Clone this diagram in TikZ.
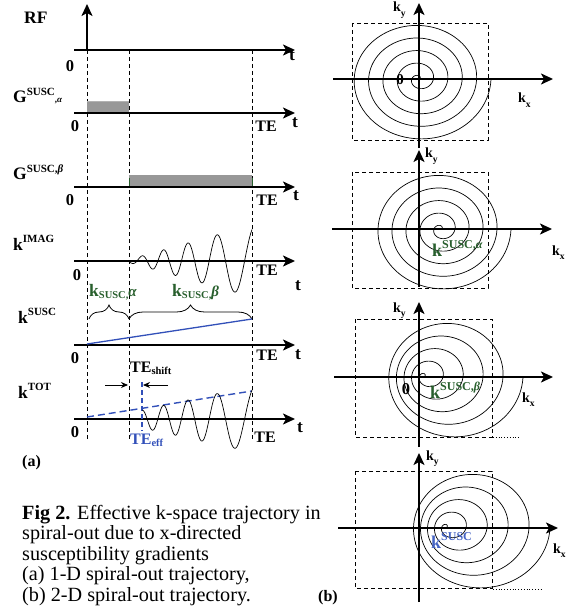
\documentclass[tikz,border=0pt]{standalone}
\usepackage{fontspec}
\setmainfont{Liberation Serif}
\usetikzlibrary{arrows.meta,decorations.pathreplacing}
\definecolor{kgreen}{RGB}{40,95,45}
\definecolor{kblue}{RGB}{50,80,185}
\definecolor{kblue2}{RGB}{70,100,195}
\definecolor{gfill}{RGB}{152,152,152}
\newcommand\supx[1]{\raisebox{0.42em}{\fontsize{11}{12}\selectfont #1}}
\newcommand\subx[1]{\raisebox{-0.15em}{\fontsize{10.5}{12}\selectfont #1}}
\newcommand\subk[1]{\raisebox{-0.3em}{\fontsize{9.5}{10}\selectfont #1}}
\newcommand\myalpha{\textit{α}}
\newcommand\mybeta{\textit{β}}
\begin{document}
\begin{tikzpicture}[x=1pt,y=-1pt,
  axarrow/.style={line width=1.8pt,-{Stealth[length=12pt,width=11pt,inset=3pt]}},
  vline/.style={line width=0.9pt,dash pattern=on 4pt off 3pt},
  kbox/.style={line width=0.9pt,dash pattern=on 4pt off 3pt},
  big/.style={font=\fontsize{17.5}{19}\selectfont\bfseries,inner sep=0pt,anchor=base west},
  ax/.style={font=\fontsize{16.5}{18}\selectfont\bfseries,inner sep=0pt},
  te/.style={font=\fontsize{16}{18}\selectfont\bfseries,inner sep=0pt},
  tt/.style={font=\fontsize{17.5}{19}\selectfont\bfseries,inner sep=0pt},
  kl/.style={font=\fontsize{14}{16}\selectfont\bfseries,inner sep=0pt,anchor=base west},
  kbig/.style={font=\fontsize{18}{19}\selectfont\bfseries,inner sep=0pt,anchor=base west},
  captxt/.style={font=\fontsize{20.2}{22}\selectfont,inner sep=0pt,anchor=base west},
  spiral/.style={line width=0.7pt},
  wave/.style={line width=0.7pt},
  shiftarrow/.style={line width=0.9pt,-{Stealth[length=7pt,width=6pt]}}
]
\useasboundingbox (0,0) rectangle (579,612);

% ---------------- panel (a) ----------------
\coordinate (v1t) at (87,50);  \coordinate (v1b) at (87,441);
\coordinate (v2t) at (129,50); \coordinate (v2b) at (129,441);
\coordinate (v3t) at (252,50); \coordinate (v3b) at (252,441);
\draw[vline] (v1t) -- (v1b);
\draw[vline] (v2t) -- (v2b);
\draw[vline] (v3t) -- (v3b);

\fill[gfill] (87,101) rectangle (129,113);
\draw[gray!60,line width=0.6pt] (87,101) -- (129,101);
\fill[gfill] (129,175) rectangle (252,187);
\draw[kgreen,line width=0.8pt] (129,178) -- (129,187);
\draw[kgreen,line width=0.8pt] (252,178) -- (252,187);

\coordinate (rfb) at (87,50); \coordinate (rft) at (87,4);
\draw[axarrow] (rfb) -- (rft);

\foreach \n/\y in {1/50,2/113,3/187,4/261,5/345,6/419}{
  \coordinate (as\n) at (74,\y); \coordinate (ae\n) at (295,\y);
  \draw[axarrow] (as\n) -- (ae\n);
}

\node[big] (rf) at (24,24) {RF};
\node[ax] (z1) at (70,66) {0};
\node[tt] (t1) at (292,56) {t};
\node[big] (gal) at (13,103) {G\supx{SUSC}\raisebox{0.05em}{\fontsize{9}{10}\selectfont ,\myalpha}};
\node[ax] (z2) at (75,126) {0};
\node[te] (te2) at (266,126) {TE};
\node[tt] (t2) at (295,123) {t};
\node[big] (gbe) at (13,180) {G\supx{SUSC,\mybeta}};
\node[ax] (z3) at (70,200) {0};
\node[te] (te3) at (267,200) {TE};
\node[tt] (t3) at (296,196) {t};
\node[big] (kim) at (13,250) {k\supx{IMAG}};
\node[ax] (z4) at (77,275) {0};
\node[te] (te4) at (267,270) {TE};
\node[tt] (t4) at (298,286) {t};
\draw[wave] plot[domain=0:123,samples=300,variable=\s]
  ({129+\s},{261-(0.28*\s+1.5)*sin(deg(-2.58+0.3297*\s-0.000784*\s*\s))});
\node[big,text=kgreen] (ksa) at (89,296) {k\subx{SUSC,}\raisebox{-0.05em}{\fontsize{15}{16}\selectfont\myalpha}};
\node[big,text=kgreen] (ksb) at (172,296) {k\subx{SUSC,}\raisebox{-0.05em}{\fontsize{15}{16}\selectfont\mybeta}};
\coordinate (b1) at (89,319); \coordinate (b2) at (129,319); \coordinate (b3) at (252,319);
\draw[decorate,decoration={brace,amplitude=14pt},line width=0.8pt] (b1) -- (b2);
\draw[decorate,decoration={brace,amplitude=14pt},line width=0.8pt] (b2) -- (b3);
\node[big] (ksu) at (18,323) {k\supx{SUSC}};
\coordinate (l1) at (87,344); \coordinate (l2) at (252,319);
\draw[kblue,line width=1.3pt] (l1) -- (l2);
\node[ax] (z5) at (75,358) {0};
\node[te] (te5) at (267,355) {TE};
\node[tt] (t5) at (298,355) {t};
\node[big] (kto) at (18,398) {k\supx{TOT}};
\node[font=\fontsize{16}{18}\selectfont\bfseries,inner sep=0pt,anchor=base west] (tes) at (130,372) {TE\subx{shift}};
\coordinate (s1) at (105,385); \coordinate (s2) at (128,385);
\coordinate (s3) at (168,385); \coordinate (s4) at (143,385);
\draw[shiftarrow] (s1) -- (s2);
\draw[shiftarrow] (s3) -- (s4);
\coordinate (d1) at (87,417); \coordinate (d2) at (252,391);
\draw[kblue,line width=1.4pt,dash pattern=on 7pt off 4pt] (d1) -- (d2);
\coordinate (e1) at (142,382); \coordinate (e2) at (142,431);
\draw[kblue,line width=1.2pt,dash pattern=on 5pt off 3pt] (e1) -- (e2);
\draw[wave] plot[domain=13:123,samples=260,variable=\s]
  ({129+\s},{419-(0.22*\s+6)*sin(deg(-2.58+0.3297*\s-0.000784*\s*\s))});
\node[ax] (z6) at (75,432) {0};
\node[te] (te6) at (265,437) {TE};
\node[tt] (t6) at (300,428) {t};
\node[font=\fontsize{16}{18}\selectfont\bfseries,inner sep=0pt,anchor=base west,text=kblue] (tee) at (130,444) {TE\subx{eff}};
\node[font=\fontsize{16}{18}\selectfont\bfseries,inner sep=0pt,anchor=base west] (pa) at (22,466) {(a)};

\node[captxt] (c1) at (22,519) {\textbf{Fig 2.} Effective k-space trajectory in};
\node[captxt] (c2) at (22,539) {spiral-out due to x-directed};
\node[captxt] (c3) at (22,560) {susceptibility gradients};
\node[captxt] (c4) at (22,580) {(a) 1-D spiral-out trajectory,};
\node[captxt] (c5) at (22,601) {(b) 2-D spiral-out trajectory.};
\node[font=\fontsize{16}{18}\selectfont\bfseries,inner sep=0pt,anchor=base west] (pb) at (318,601) {(b)};

% ---------------- panel (b) ----------------
\draw[kbox] (352,23) rectangle (488,140);
\draw[spiral] plot[domain=0:1,samples=500,variable=\t]
  ({419+72*\t*cos(1800*\t)},{79-63*\t*sin(1800*\t)});
\coordinate (p1a) at (333,79); \coordinate (p1b) at (553,79);
\coordinate (p1c) at (419,148); \coordinate (p1d) at (419,3);
\draw[axarrow] (p1a) -- (p1b);
\draw[axarrow] (p1c) -- (p1d);
\node[kl] (ky1) at (393,12) {k\subk{y}};
\node[kl] (kx1) at (518,103) {k\subk{x}};
\node[ax,font=\fontsize{15}{16}\selectfont\bfseries] (o1) at (400,80) {0};

\draw[kbox] (352,172) rectangle (488,288);
\draw[spiral] plot[domain=0:1,samples=500,variable=\t]
  ({441+70*\t*cos(1800*\t)},{229-63*\t*sin(1800*\t)});
\coordinate (p2a) at (332,229); \coordinate (p2b) at (552,229);
\coordinate (p2c) at (419,287); \coordinate (p2d) at (419,150);
\draw[axarrow] (p2a) -- (p2b);
\draw[axarrow] (p2c) -- (p2d);
\node[kl] (ky2) at (425,158) {k\subk{y}};
\node[kl] (kx2) at (552,255) {k\subk{x}};
\node[kbig,text=kgreen] (ksa2) at (432,256) {k\supx{\fontsize{12}{13}\selectfont SUSC,\myalpha}};

\draw[kbox] (355,319) rectangle (492,437);
\draw[line width=0.8pt,dotted] (493,437) -- (520,437);
\draw[spiral] plot[domain=0:1,samples=500,variable=\t]
  ({423+31*\t+69*\t*cos(1800*\t)},{377-63*\t*sin(1800*\t)});
\coordinate (p3a) at (334,377); \coordinate (p3b) at (553,377);
\coordinate (p3c) at (419,447); \coordinate (p3d) at (419,302);
\draw[axarrow] (p3a) -- (p3b);
\draw[axarrow] (p3c) -- (p3d);
\node[kl] (ky3) at (393,312) {k\subk{y}};
\node[kl] (kx3) at (522,402) {k\subk{x}};
\node[ax] (o3) at (406,389) {0};
\node[kbig,text=kgreen] (ksb3) at (430,398) {k\supx{\fontsize{12}{13}\selectfont SUSC,\mybeta}};

\draw[kbox] (355,471) rectangle (492,588);
\draw[line width=0.8pt,dotted] (493,589) -- (543,589);
\draw[spiral] plot[domain=0:1,samples=500,variable=\t]
  ({445+35*\t+70*\t*cos(1800*\t)},{528-63*\t*sin(1800*\t)});
\coordinate (p4a) at (338,528); \coordinate (p4b) at (558,528);
\coordinate (p4c) at (419,602); \coordinate (p4d) at (419,453);
\draw[axarrow] (p4a) -- (p4b);
\draw[axarrow] (p4c) -- (p4d);
\node[kl] (ky4) at (426,460) {k\subk{y}};
\node[kl] (kx4) at (553,553) {k\subk{x}};
\node[kbig,text=kblue2] (ks4) at (431,548) {k\supx{\fontsize{12}{13}\selectfont SUSC}};
\end{tikzpicture}
\end{document}
